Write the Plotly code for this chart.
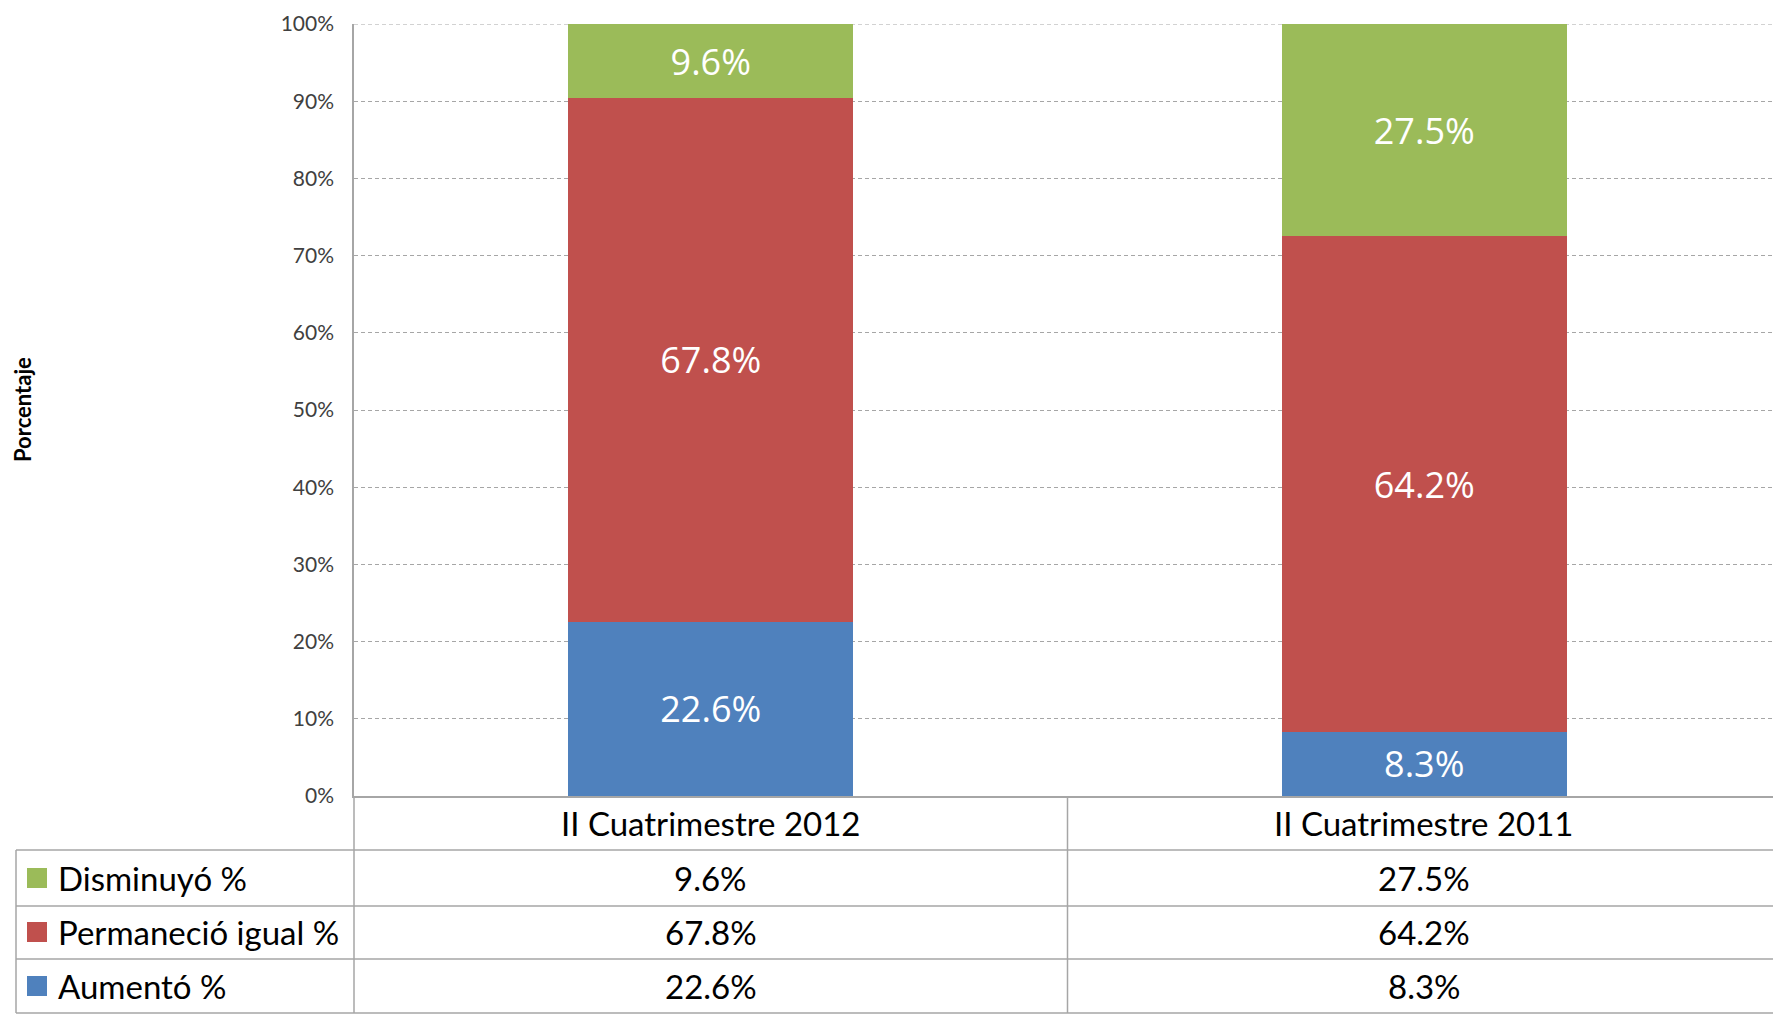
"""
Stacked percentage bars with an Excel-style data table underneath
"""

import plotly.graph_objects as go

# Data
categories = ["II Cuatrimestre 2012", "II Cuatrimestre 2011"]
series_names = ["Aumentó %", "Permaneció igual %", "Disminuyó %"]
aumento = [22.6, 8.3]
permanecio = [67.8, 64.2]
disminuyo = [9.6, 27.5]
y_ticks = [0, 10, 20, 30, 40, 50, 60, 70, 80, 90, 100]

colors = {"Aumentó %": "#4F81BD", "Permaneció igual %": "#C0504D", "Disminuyó %": "#9BBB59"}
series_values = {"Aumentó %": aumento, "Permaneció igual %": permanecio, "Disminuyó %": disminuyo}

W, H = 1773, 1015
L, T, B = 354, 24, 219
plot_w = W - L
plot_h = H - T - B
base_y = H - B
# the original chart's plot area runs a little past the right edge of the image
cat_px = 713.5
x_range = [-0.5, -0.5 + plot_w / cat_px]


def px_x(px):
    return (px - L) / plot_w


def px_y(py):
    return (base_y - py) / plot_h


fig = go.Figure()

for name in series_names:
    fig.add_trace(go.Bar(
        x=categories,
        y=series_values[name],
        name=name,
        marker=dict(color=colors[name], line=dict(width=0)),
        texttemplate="%{y:.1f}%",
        textposition="inside",
        insidetextanchor="middle",
        textangle=0,
        textfont=dict(family="Open Sans", size=36, color="white"),
        showlegend=False,
    ))

fig.update_layout(
    width=W,
    height=H,
    barmode="stack",
    bargap=0.6,
    margin=dict(l=L, r=0, t=T, b=B),
    plot_bgcolor="white",
    paper_bgcolor="white",
    font=dict(family="Lato", color="#404040"),
)

fig.update_yaxes(
    range=[0, 100],
    tickvals=y_ticks,
    ticktext=[f"{v}%" for v in y_ticks],
    tickfont=dict(family="Lato", size=21, color="#404040"),
    ticks="",
    ticklabelstandoff=14,
    showgrid=True,
    gridcolor="#A6A6A6",
    griddash="4px,3px",
    gridwidth=1,
    zeroline=False,
    showline=True,
    linecolor="#A6A6A6",
    linewidth=1.5,
)

fig.update_xaxes(
    range=x_range,
    showticklabels=False,
    showgrid=False,
    zeroline=False,
    showline=True,
    linecolor="#A6A6A6",
    linewidth=1.5,
)

# gridline at the top edge (plotly skips it at the range end)
fig.add_shape(type="line", xref="paper", yref="y", x0=0, x1=1, y0=100, y1=100,
              line=dict(color="#A6A6A6", width=1, dash="4px,3px"), layer="below")

# Y axis title
fig.add_annotation(
    text="<b>Porcentaje</b>", xref="paper", yref="paper",
    x=px_x(22), y=px_y(410), textangle=-90, showarrow=False,
    font=dict(family="Lato", size=22, color="black"),
    xanchor="center", yanchor="middle",
)

# Data table grid
line_style = dict(color="#A6A6A6", width=1.5)
for py in [850, 906, 959, 1013]:
    fig.add_shape(type="line", xref="paper", yref="paper",
                  x0=px_x(16), x1=1, y0=px_y(py), y1=px_y(py), line=line_style)
fig.add_shape(type="line", xref="paper", yref="paper",
              x0=0, x1=0, y0=0, y1=px_y(1013), line=line_style)
fig.add_shape(type="line", xref="paper", yref="paper",
              x0=px_x(16), x1=px_x(16), y0=px_y(850), y1=px_y(1013), line=line_style)
fig.add_shape(type="line", xref="x", yref="paper",
              x0=0.5, x1=0.5, y0=0, y1=px_y(1013), line=line_style)

table_font = dict(family="Lato", size=33, color="black")

# Header row: category labels
for cat in categories:
    fig.add_annotation(
        text=cat, xref="x", yref="paper", x=cat, y=px_y(823),
        showarrow=False, xanchor="center", yanchor="middle", font=table_font,
    )

# Table rows (top to bottom: Disminuyó, Permaneció, Aumentó)
row_centers = [878, 932, 986]
for name, ry in zip(reversed(series_names), row_centers):
    fig.add_shape(type="rect", xref="paper", yref="paper",
                  x0=px_x(27), x1=px_x(47), y0=px_y(ry - 10), y1=px_y(ry + 10),
                  fillcolor=colors[name], line=dict(width=0))
    fig.add_annotation(
        text=name, xref="paper", yref="paper", x=px_x(56), y=px_y(ry),
        showarrow=False, xanchor="left", yanchor="middle", font=table_font,
    )
    for cat, v in zip(categories, series_values[name]):
        fig.add_annotation(
            text=f"{v:.1f}%", xref="x", yref="paper", x=cat, y=px_y(ry),
            showarrow=False, xanchor="center", yanchor="middle", font=table_font,
        )

fig.write_html(
    "out.html",
    config={"displayModeBar": False},
    post_script="document.body.style.margin='0';document.body.style.overflow='hidden';",
)
